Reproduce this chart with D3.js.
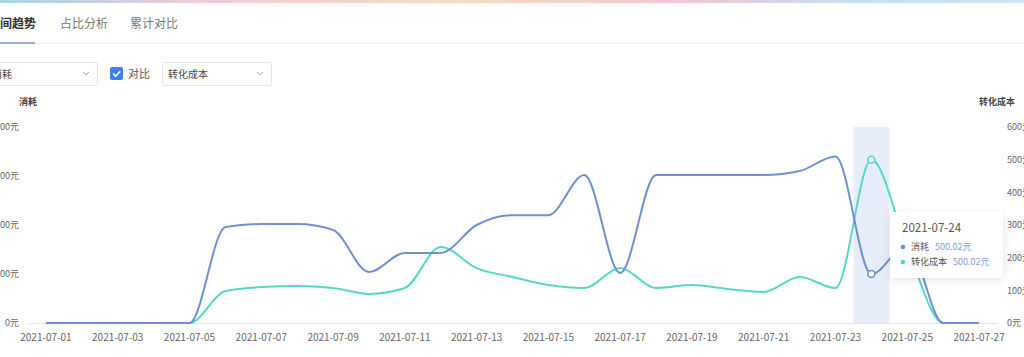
<!DOCTYPE html>
<html><head><meta charset="utf-8">
<script src="https://cdn.jsdelivr.net/npm/d3@7/dist/d3.min.js"></script>
<style>
html,body{margin:0;padding:0;background:#fff;overflow:hidden;}
svg{display:block;font-family:"Noto Sans CJK SC","Noto Sans",sans-serif;}
</style></head>
<body>
<svg id="c" width="1024" height="357"></svg>
<script>
// ---- data ----
const dates = ["2021-07-01","2021-07-02","2021-07-03","2021-07-04","2021-07-05","2021-07-06","2021-07-07","2021-07-08","2021-07-09","2021-07-10","2021-07-11","2021-07-12","2021-07-13","2021-07-14","2021-07-15","2021-07-16","2021-07-17","2021-07-18","2021-07-19","2021-07-20","2021-07-21","2021-07-22","2021-07-23","2021-07-24","2021-07-25","2021-07-26","2021-07-27"];
const consume = [0,0,0,0,0,980,1010,1010,950,520,715,715,1000,1100,1100,1510,510,1510,1510,1510,1510,1550,1700,500.02,800,0,0];
const convCost = [0,0,0,0,0,98,110,113,107,89,107,233,168,141,116,107,168,107,116,104,95,141,107,500.02,230,0,0];
const leftTicks = [0,500,1000,1500,2000];
const rightTicks = [0,100,200,300,400,500,600];
const tabs = ["时间趋势","占比分析","累计对比"];
const seriesNames = ["消耗","转化成本"];
const hoverIndex = 23;

const colors = {blue:"#6d8fd6", cyan:"#55d8c4"};
const svg = d3.select("#c");

// top gradient strip
const defs = svg.append("defs");
const g0 = defs.append("linearGradient").attr("id","topg");
[["0%","#9ed8f0"],["20%","#f6c9d6"],["45%","#f9d9c2"],["65%","#f7c4cf"],["85%","#bfe0f7"],["100%","#cfe4f7"]].forEach(s=>g0.append("stop").attr("offset",s[0]).attr("stop-color",s[1]));
svg.append("rect").attr("x",0).attr("y",0).attr("width",1024).attr("height",3).attr("fill","url(#topg)");
const sh = defs.append("filter").attr("id","shadow").attr("x","-20%").attr("y","-20%").attr("width","140%").attr("height","150%");
sh.append("feDropShadow").attr("dx",0).attr("dy",2).attr("stdDeviation",4).attr("flood-color","#000").attr("flood-opacity",0.12);

// tabs
const tabX = [-12, 60, 130];
tabs.forEach((t,i)=>{
  svg.append("text").attr("x",tabX[i]).attr("y",28).attr("font-size",12)
    .attr("font-weight", i===0?700:400).attr("fill", i===0?"#333":"#777").text(t);
});
svg.append("line").attr("x1",0).attr("x2",1024).attr("y1",43.5).attr("y2",43.5).attr("stroke","#eef0f3");
svg.append("rect").attr("x",0).attr("y",42).attr("width",35).attr("height",2).attr("fill","#8fb0e8");

// controls
function dropdown(x,w,label,tx){
  svg.append("rect").attr("x",x+0.5).attr("y",62.5).attr("width",w).attr("height",23).attr("rx",2)
    .attr("fill","#fff").attr("stroke","#e4e6ea");
  svg.append("text").attr("x",tx).attr("y",78).attr("font-size",10).attr("fill","#444").text(label);
  svg.append("path").attr("d",`M${x+w-14},72 l3,3 l3,-3`).attr("fill","none").attr("stroke","#aaa").attr("stroke-width",1);
}
dropdown(-10,107,seriesNames[0],-8);
svg.append("rect").attr("x",110).attr("y",67).attr("width",13).attr("height",13).attr("rx",2).attr("fill","#3d7ff0");
svg.append("path").attr("d","M113,73.5 l2.7,2.7 l4.5,-5").attr("fill","none").attr("stroke","#fff").attr("stroke-width",1.6);
svg.append("text").attr("x",128).attr("y",78).attr("font-size",11).attr("fill","#555").text("对比");
dropdown(162,109,seriesNames[1],168);

// scales
const x = d3.scaleBand().domain(dates).range([28,997]).paddingInner(0).paddingOuter(0);
const cx = d => x(d)+x.bandwidth()/2;
const yL = d3.scaleLinear().domain([0,2000]).range([323,127]);
const yR = d3.scaleLinear().domain([0,600]).range([323,127]);

// axis titles
svg.append("text").attr("x",19).attr("y",105).attr("font-size",9).attr("font-weight",700).attr("fill","#444").text(seriesNames[0]);
svg.append("text").attr("x",979).attr("y",105).attr("font-size",9).attr("font-weight",700).attr("fill","#444").text(seriesNames[1]);

// hover band
svg.append("rect").attr("x",x(dates[hoverIndex])).attr("y",127).attr("width",x.bandwidth()).attr("height",196)
  .attr("fill","#e4ecfa").attr("opacity",0.9);

// axes
const axL = svg.append("g").attr("transform","translate(28,0)")
  .call(d3.axisLeft(yL).tickValues(leftTicks).tickSize(0).tickPadding(9).tickFormat(d=>d+"元"));
axL.select(".domain").remove();
axL.selectAll("text").attr("font-size",9).attr("fill","#666").attr("font-family","Noto Sans CJK SC");
const axR = svg.append("g").attr("transform","translate(997,0)")
  .call(d3.axisRight(yR).tickValues(rightTicks).tickSize(0).tickPadding(10).tickFormat(d=>d+"元"));
axR.select(".domain").remove();
axR.selectAll("text").attr("font-size",9).attr("fill","#666").attr("font-family","Noto Sans CJK SC");
const axB = svg.append("g").attr("transform","translate(0,323)")
  .call(d3.axisBottom(x).tickValues(dates.filter((d,i)=>i%2===0)).tickSize(0).tickPadding(11));
axB.select(".domain").attr("stroke","#e3e5e8");
axB.selectAll("text").attr("font-size",10).attr("fill","#666").attr("font-family","Noto Sans CJK SC");

// lines
const lineL = d3.line().x((d,i)=>cx(dates[i])).y(d=>yL(d)).curve(d3.curveMonotoneX);
const lineR = d3.line().x((d,i)=>cx(dates[i])).y(d=>yR(d)).curve(d3.curveMonotoneX);
svg.append("path").datum(convCost).attr("d",lineR).attr("fill","none").attr("stroke",colors.cyan).attr("stroke-width",2);
svg.append("path").datum(consume).attr("d",lineL).attr("fill","none").attr("stroke",colors.blue).attr("stroke-width",2);

// hover markers
svg.append("circle").attr("cx",cx(dates[hoverIndex])).attr("cy",yL(consume[hoverIndex])).attr("r",3.5)
  .attr("fill","#fff").attr("stroke",colors.blue).attr("stroke-width",1.5);
svg.append("circle").attr("cx",cx(dates[hoverIndex])).attr("cy",yR(convCost[hoverIndex])).attr("r",3.5)
  .attr("fill","#fff").attr("stroke",colors.cyan).attr("stroke-width",1.5);

// tooltip
const tt = svg.append("g").attr("transform","translate(890,212)");
tt.append("rect").attr("width",113).attr("height",66).attr("rx",4).attr("fill","#fff").attr("fill-opacity",0.96).attr("filter","url(#shadow)");
tt.append("text").attr("x",12).attr("y",20).attr("font-size",11.5).attr("fill","#555").text(dates[hoverIndex]);
const rows = [[seriesNames[0],consume[hoverIndex],colors.blue],[seriesNames[1],convCost[hoverIndex],colors.cyan]];
rows.forEach((r,i)=>{
  const yy = 38 + i*15;
  tt.append("circle").attr("cx",13).attr("cy",yy-3).attr("r",2.3).attr("fill",r[2]);
  const t = tt.append("text").attr("x",21).attr("y",yy).attr("font-size",9).attr("fill","#555").text(r[0]);
  const w = t.node().getComputedTextLength();
  tt.append("text").attr("x",21+w+6).attr("y",yy).attr("font-size",9).attr("fill","#7e9ee0").text(r[1].toFixed(2)+"元");
});
</script>
</body></html>
